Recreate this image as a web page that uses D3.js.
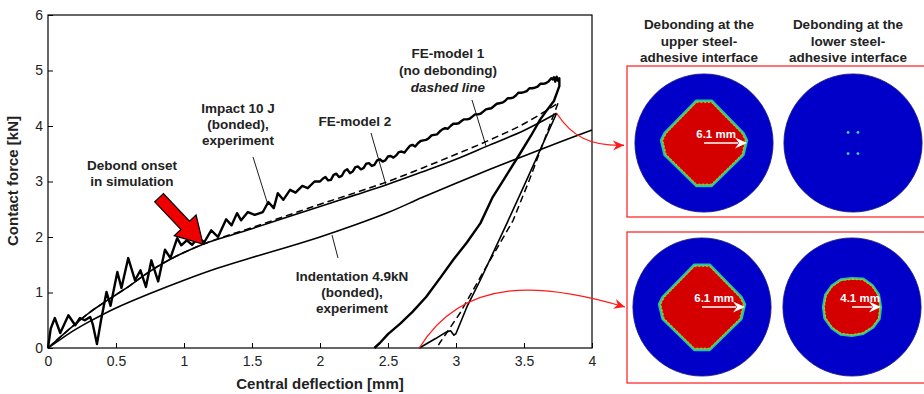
<!DOCTYPE html>
<html><head><meta charset="utf-8">
<script src="https://cdn.jsdelivr.net/npm/d3@7/dist/d3.min.js"></script>
<style>
body{margin:0;background:#fff;}
svg text{font-family:"Liberation Sans",Arial,Helvetica,sans-serif;}
</style></head>
<body><svg id="c" width="924" height="394"></svg>
<script>
// ---------- data ----------
const xTicks = [0, 0.5, 1, 1.5, 2, 2.5, 3, 3.5, 4];
const xTickLabels = ["0", "0.5", "1", "1.5", "2", "2.5", "3", "3.5", "4"];
const yTicks = [0, 1, 2, 3, 4, 5, 6];
const yTickLabels = ["0", "1", "2", "3", "4", "5", "6"];

// Impact 10 J (bonded), experiment - loading + unloading
const impactExp = [
 [0,0],[0.02,0.35],[0.05,0.54],[0.09,0.27],[0.15,0.59],[0.2,0.41],[0.235,0.54],[0.27,0.5],[0.31,0.56],[0.33,0.42],
 [0.36,0.07],[0.39,0.5],[0.43,1.01],[0.46,0.76],[0.51,1.37],[0.54,1.08],[0.59,1.62],[0.64,1.22],[0.68,1.4],[0.72,1.1],
 [0.76,1.58],[0.81,1.2],[0.86,1.77],[0.9,1.62],[0.95,1.98],[0.98,1.85],[1.02,1.94],[1.06,1.86],[1.1,1.98],[1.15,1.91],
 [1.2,2.12],[1.25,2.0],[1.31,2.32],[1.35,2.21],[1.39,2.43],[1.42,2.3],[1.47,2.45],[1.52,2.4],[1.58,2.45],[1.62,2.63],
 [1.66,2.52],[1.69,2.79],[1.73,2.67],[1.78,2.85],[1.82,2.8],[1.87,2.92],[1.91,2.88],[1.96,3.0],
 [2.00,3.00],[2.02,3.05],[2.04,3.08],[2.06,3.02],[2.08,3.03],[2.10,3.12],[2.12,3.14],[2.14,3.08],[2.16,3.10],[2.18,3.19],
 [2.20,3.22],[2.22,3.15],[2.24,3.18],[2.26,3.26],[2.28,3.27],[2.30,3.22],[2.32,3.24],[2.34,3.32],[2.36,3.33],[2.38,3.28],
 [2.40,3.30],[2.42,3.38],[2.44,3.40],[2.46,3.36],[2.48,3.38],[2.50,3.45],[2.52,3.46],[2.54,3.43],[2.56,3.47],[2.58,3.53],
 [2.60,3.54],[2.62,3.52],[2.64,3.58],[2.66,3.64],[2.68,3.66],[2.70,3.63],[2.72,3.69],[2.74,3.73],[2.76,3.74],[2.78,3.75],
 [2.80,3.78],[2.82,3.83],[2.84,3.84],[2.86,3.85],[2.88,3.90],[2.90,3.94],[2.92,3.96],[2.94,3.95],[2.96,4.00],[2.98,4.04],
 [3.00,4.04],[3.02,4.05],[3.04,4.09],[3.06,4.12],[3.08,4.12],[3.10,4.13],[3.12,4.17],[3.14,4.21],[3.16,4.21],[3.18,4.22],
 [3.20,4.26],[3.22,4.30],[3.24,4.31],[3.26,4.32],[3.28,4.36],[3.30,4.40],[3.32,4.41],[3.34,4.42],[3.36,4.45],[3.38,4.50],
 [3.40,4.50],[3.42,4.51],[3.44,4.55],[3.46,4.60],[3.48,4.60],[3.50,4.61],[3.52,4.63],[3.54,4.68],[3.56,4.68],[3.58,4.69],
 [3.60,4.71],[3.62,4.76],[3.64,4.76],[3.66,4.77],[3.68,4.80],[3.70,4.86],[3.71,4.84],[3.72,4.88],[3.73,4.80],[3.74,4.89],
 [3.75,4.82],[3.76,4.86],
 [3.76,4.72],[3.72,4.45],[3.67,4.29],[3.62,4.12],[3.55,3.82],[3.47,3.5],[3.35,3.03],[3.27,2.72],[3.18,2.25],[3.08,1.9],
 [2.98,1.59],[2.88,1.25],[2.78,0.92],[2.68,0.65],[2.59,0.44],[2.5,0.25],[2.44,0.09],[2.40,0]
];

// FE-model 2 (solid)
const fe2Load = [[0,0],[0.1,0.22],[0.2,0.43],[0.3,0.63],[0.4,0.8],[0.5,0.96],[0.6,1.12],[0.7,1.3],[0.8,1.46],[0.9,1.6],
 [1.0,1.72],[1.14,1.87],[1.3,2.0],[1.5,2.15],[1.75,2.35],[2.0,2.55],[2.25,2.75],[2.5,2.95],[2.75,3.17],[3.0,3.4],
 [3.25,3.66],[3.5,3.92],[3.74,4.23]];
const fe2Unload = [[3.74,4.23],[3.52,3.03],[3.375,2.25],[3.18,1.23],[3.08,0.74],[3.0,0.26],[2.985,0.23],[2.96,0.31],
 [2.93,0.29],[2.85,0.17],[2.73,0]];

// FE-model 1 (no debonding, dashed)
const fe1Load = [[0,0],[0.1,0.22],[0.2,0.43],[0.3,0.63],[0.4,0.8],[0.5,0.96],[0.6,1.12],[0.7,1.3],[0.8,1.46],[0.9,1.6],
 [1.0,1.72],[1.14,1.87],[1.3,2.01],[1.5,2.17],[1.75,2.38],[2.0,2.59],[2.25,2.79],[2.5,3.0],[2.75,3.24],[3.0,3.49],
 [3.25,3.75],[3.5,4.04],[3.75,4.41]];
const fe1Unload = [[3.75,4.41],[3.54,3.03],[3.42,2.3],[3.18,1.28],[3.03,0.63],[2.88,0.09],[2.86,0]];

// Indentation 4.9kN (bonded), experiment
const indentExp = [[0,0],[0.1,0.17],[0.2,0.33],[0.3,0.47],[0.4,0.6],[0.5,0.72],[0.75,0.98],[1.0,1.22],[1.25,1.44],
 [1.5,1.63],[1.75,1.81],[2.0,2.0],[2.25,2.21],[2.5,2.44],[2.75,2.71],[3.0,2.97],[3.25,3.22],[3.5,3.46],[3.75,3.7],[4.0,3.93]];

// debonded regions (mm, relative to plate centre)
const upperDebond = [[-1.1,-6.0],[1.1,-6.0],[5.6,-1.4],[6.1,-0.4],[5.6,1.7],[1.1,6.1],[-1.1,6.1],[-5.6,1.7],[-6.1,-0.4],[-5.6,-1.4]];
const lowerDebond = [[0,-4.1],[1.6,-4.0],[2.9,-3.1],[3.8,-1.8],[4.1,0],[3.9,1.7],[3.0,2.9],[1.6,3.8],[0,4.1],[-1.6,3.9],
 [-2.9,3.0],[-3.9,1.6],[-4.1,0],[-3.8,-1.7],[-2.9,-3.0],[-1.6,-3.9]];
const lowerSpots = [[-0.7,-1.5],[0.7,-1.5],[-0.7,1.5],[0.7,1.5]];
const plateRadius = 9.8; // mm

// ---------- chart ----------
const svg = d3.select("#c");
const m = {l:48, r:592, t:15, b:348};
const x = d3.scaleLinear().domain([0,4]).range([m.l, m.r]);
const y = d3.scaleLinear().domain([0,6]).range([m.b, m.t]);
const FONT = '"Liberation Sans",Arial,Helvetica,sans-serif';

// axes
const xa = svg.append("g").attr("transform",`translate(0,${m.b})`)
 .call(d3.axisBottom(x).tickValues(xTicks).tickFormat((d,i)=>xTickLabels[i]).tickSizeInner(-5).tickSizeOuter(0).tickPadding(8));
const ya = svg.append("g").attr("transform",`translate(${m.l},0)`)
 .call(d3.axisLeft(y).tickValues(yTicks).tickFormat((d,i)=>yTickLabels[i]).tickSizeInner(-5).tickSizeOuter(0).tickPadding(5));
[xa,ya].forEach(g=>{
  g.select(".domain").remove();
  g.selectAll("line").attr("stroke","#000").attr("stroke-width",1);
  g.selectAll("text").attr("font-size",14).attr("fill","#222").attr("font-family",FONT);
});
svg.append("rect").attr("x",m.l).attr("y",m.t).attr("width",m.r-m.l).attr("height",m.b-m.t)
 .attr("fill","none").attr("stroke","#000").attr("stroke-width",1.2);

svg.append("text").attr("x",320).attr("y",389).attr("text-anchor","middle")
 .attr("font-size",15).attr("font-weight","bold").attr("fill","#222").text("Central deflection [mm]");
svg.append("text").attr("transform","translate(18,181) rotate(-90)").attr("text-anchor","middle")
 .attr("font-size",15).attr("font-weight","bold").attr("fill","#222").text("Contact force [kN]");

const lineLin = d3.line().x(d=>x(d[0])).y(d=>y(d[1]));
const lineSmooth = d3.line().x(d=>x(d[0])).y(d=>y(d[1])).curve(d3.curveCatmullRom.alpha(0.5));

const plot = svg.append("g");
plot.append("path").attr("d",lineSmooth(indentExp)).attr("fill","none").attr("stroke","#000").attr("stroke-width",1.6);
plot.append("path").attr("d",lineSmooth(fe1Load)).attr("fill","none").attr("stroke","#000").attr("stroke-width",1.5).attr("stroke-dasharray","7,4");
plot.append("path").attr("d",lineLin(fe1Unload)).attr("fill","none").attr("stroke","#000").attr("stroke-width",1.5).attr("stroke-dasharray","7,4");
plot.append("path").attr("d",lineSmooth(fe2Load)).attr("fill","none").attr("stroke","#000").attr("stroke-width",1.6);
plot.append("path").attr("d",lineLin(fe2Unload)).attr("fill","none").attr("stroke","#000").attr("stroke-width",1.6).attr("stroke-linejoin","round");
plot.append("path").attr("d",lineLin(impactExp)).attr("fill","none").attr("stroke","#000").attr("stroke-width",2.4).attr("stroke-linejoin","round");

// red connectors
const defs = svg.append("defs");
defs.append("marker").attr("id","ah").attr("viewBox","-11 -6 12 12").attr("refX",0).attr("refY",0)
 .attr("markerWidth",12).attr("markerHeight",12).attr("markerUnits","userSpaceOnUse").attr("orient","auto")
 .append("path").attr("d","M0,0 L-11,-5 L-7.5,0 L-11,5 Z").attr("fill","#ff1a1a");
const p1 = [x(3.74), y(4.23)];
svg.append("path").attr("d",`M${p1[0]},${p1[1]} C${p1[0]+15},${p1[1]+23} ${p1[0]+33},${p1[1]+33} 624,${p1[1]+32}`)
 .attr("fill","none").attr("stroke","#ff1a1a").attr("stroke-width",1.3).attr("marker-end","url(#ah)");
const p2 = [x(2.73), y(0)];
svg.append("path").attr("d",`M${p2[0]},${p2[1]} C${p2[0]+45},${p2[1]-73} ${p2[0]+125},${p2[1]-65} 625,307`)
 .attr("fill","none").attr("stroke","#ff1a1a").attr("stroke-width",1.3).attr("marker-end","url(#ah)");

// debond onset arrow
const tip = [x(1.14), y(1.87)];
svg.append("path").attr("transform",`translate(${tip[0]},${tip[1]}) rotate(46.6)`)
 .attr("d","M0,0 L-26,-15 L-26,-6 L-64,-6 L-64,6 L-26,6 L-26,15 Z")
 .attr("fill","#ee0000").attr("stroke","#000").attr("stroke-width",1.2).attr("stroke-linejoin","miter");

// annotation text
function label(lines, cx, y0, dy, italicLast){
  const t = svg.append("text").attr("text-anchor","middle").attr("font-size",13.5).attr("font-weight","bold").attr("fill","#222");
  lines.forEach((s,i)=>{
    const ts = t.append("tspan").attr("x",cx).attr("y",y0+i*dy).text(s);
    if(italicLast && i===lines.length-1) ts.attr("font-style","italic");
  });
}
label(["Debond onset","in simulation"],132,170,16);
label(["Impact 10 J","(bonded),","experiment"],238,113,16);
label(["FE-model 2"],355,126,16);
label(["FE-model 1","(no debonding)","dashed line"],448,58,17,true);
label(["Indentation 4.9kN","(bonded),","experiment"],352,281,16);

// leader lines
const leaders = [[[253,157],[268,205]],[[371,133],[386,185]],[[472,100],[486,146]],[[332,235],[338,258]]];
leaders.forEach(l=>svg.append("line").attr("x1",l[0][0]).attr("y1",l[0][1]).attr("x2",l[1][0]).attr("y2",l[1][1])
 .attr("stroke","#000").attr("stroke-width",0.9));

// ---------- right panels ----------
label(["Debonding at the","upper steel-","adhesive interface"],699,29,16.5);
label(["Debonding at the","lower steel-","adhesive interface"],848,29,16.5);

svg.append("rect").attr("x",627).attr("y",66).attr("width",320).attr("height",151).attr("fill","none").attr("stroke","#ff2a2a").attr("stroke-width",1.3);
svg.append("rect").attr("x",627).attr("y",232).attr("width",320).attr("height",151).attr("fill","none").attr("stroke","#ff2a2a").attr("stroke-width",1.3);

const mm = d3.scaleLinear().domain([0,1]).range([0,7.05]);
const BLUE = "#0000c8", RED = "#d40000";
function plate(cx, cy, region, arrowLabel, spots){
  const g = svg.append("g").attr("transform",`translate(${cx},${cy})`);
  g.append("circle").attr("r",mm(plateRadius)).attr("fill",BLUE).attr("stroke","#1a1a80").attr("stroke-width",0.8);
  if(region){
    const poly = region.map(p=>[mm(p[0]),mm(p[1])].join(",")).join(" ");
    g.append("polygon").attr("points",poly).attr("fill",RED).attr("stroke","#22c0b0").attr("stroke-width",2.4).attr("stroke-linejoin","round");
    g.append("polygon").attr("points",poly).attr("fill","none").attr("stroke","#6cd040").attr("stroke-width",1.2).attr("transform","scale(0.975)");
    g.append("polygon").attr("points",poly).attr("fill","none").attr("stroke","#e0c820").attr("stroke-width",0.8).attr("stroke-dasharray","2,2").attr("transform","scale(0.955)");
    const L = region.reduce((a,p)=>Math.max(a,p[0]),0);
    g.append("line").attr("x1",0).attr("y1",0).attr("x2",mm(L)-9).attr("y2",0).attr("stroke","#fff").attr("stroke-width",1.5);
    g.append("path").attr("d",`M${mm(L)},0 L${mm(L)-12},-5.5 L${mm(L)-8},0 L${mm(L)-12},5.5 Z`).attr("fill","#fff");
    g.append("text").attr("x",mm(L)*0.28).attr("y",-5).attr("text-anchor","middle").attr("font-size",11.5)
     .attr("font-weight","bold").attr("fill","#fff").text(arrowLabel);
  }
  if(spots){
    spots.forEach(s=>g.append("circle").attr("cx",mm(s[0])).attr("cy",mm(s[1])).attr("r",1.4).attr("fill","#40d8b0"));
  }
}
plate(704,143,upperDebond,"6.1 mm",null);
plate(853,143,null,null,lowerSpots);
plate(702,307,upperDebond,"6.1 mm",null);
plate(852,307,lowerDebond,"4.1 mm",null);
</script></body></html>
